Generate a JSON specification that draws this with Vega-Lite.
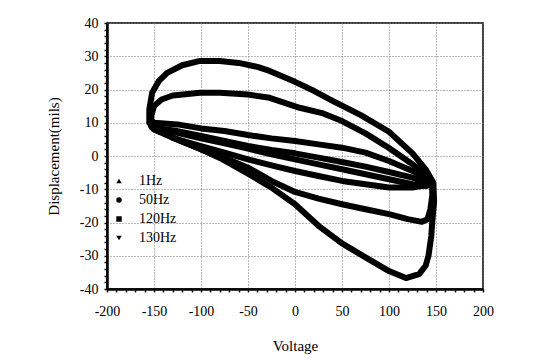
{
  "$schema": "https://vega.github.io/schema/vega-lite/v6.json",
  "autosize": "none",
  "width": 376,
  "height": 266,
  "padding": {"left": 107, "top": 23, "right": 57, "bottom": 71},
  "background": "white",
  "config": {
    "view": {"stroke": "black", "strokeWidth": 1.5},
    "font": "Liberation Serif"
  },
  "data": {"values": [
    {"f":"130Hz","i":1,"v":-155,"d":10},{"f":"130Hz","i":2,"v":-155,"d":14},{"f":"130Hz","i":3,"v":-152,"d":19},{"f":"130Hz","i":4,"v":-145,"d":22.5},{"f":"130Hz","i":5,"v":-136,"d":25},{"f":"130Hz","i":6,"v":-120,"d":27.3},{"f":"130Hz","i":7,"v":-101,"d":28.6},{"f":"130Hz","i":8,"v":-80,"d":28.6},{"f":"130Hz","i":9,"v":-60,"d":28},{"f":"130Hz","i":10,"v":-40,"d":26.8},{"f":"130Hz","i":11,"v":-27,"d":25.6},{"f":"130Hz","i":12,"v":0,"d":22.3},{"f":"130Hz","i":13,"v":20,"d":19.6},{"f":"130Hz","i":14,"v":40,"d":16.6},{"f":"130Hz","i":15,"v":70,"d":12.3},{"f":"130Hz","i":16,"v":100,"d":7.3},{"f":"130Hz","i":17,"v":125,"d":0.8},{"f":"130Hz","i":18,"v":139,"d":-4},{"f":"130Hz","i":19,"v":147,"d":-8},{"f":"130Hz","i":20,"v":148,"d":-13.5},{"f":"130Hz","i":21,"v":146,"d":-20},{"f":"130Hz","i":22,"v":145,"d":-24},{"f":"130Hz","i":23,"v":142,"d":-30},{"f":"130Hz","i":24,"v":139,"d":-33},{"f":"130Hz","i":25,"v":132,"d":-35.5},{"f":"130Hz","i":26,"v":118,"d":-36.7},{"f":"130Hz","i":27,"v":100,"d":-34.6},{"f":"130Hz","i":28,"v":75,"d":-30.5},{"f":"130Hz","i":29,"v":50,"d":-26.3},{"f":"130Hz","i":30,"v":25,"d":-21},{"f":"130Hz","i":31,"v":0,"d":-14.5},{"f":"130Hz","i":32,"v":-25,"d":-9.5},{"f":"130Hz","i":33,"v":-50,"d":-5.3},{"f":"130Hz","i":34,"v":-77,"d":-1},{"f":"130Hz","i":35,"v":-100,"d":2},{"f":"130Hz","i":36,"v":-130,"d":5.5},{"f":"130Hz","i":37,"v":-150,"d":8},{"f":"130Hz","i":38,"v":-155,"d":10},
    {"f":"120Hz","i":1,"v":-152,"d":9},{"f":"120Hz","i":2,"v":-153,"d":12},{"f":"120Hz","i":3,"v":-150,"d":15},{"f":"120Hz","i":4,"v":-142,"d":17},{"f":"120Hz","i":5,"v":-130,"d":18.2},{"f":"120Hz","i":6,"v":-101,"d":19},{"f":"120Hz","i":7,"v":-80,"d":19},{"f":"120Hz","i":8,"v":-50,"d":18.5},{"f":"120Hz","i":9,"v":-27,"d":17.5},{"f":"120Hz","i":10,"v":5,"d":14.5},{"f":"120Hz","i":11,"v":30,"d":12.8},{"f":"120Hz","i":12,"v":50,"d":10.5},{"f":"120Hz","i":13,"v":75,"d":6.8},{"f":"120Hz","i":14,"v":100,"d":2.4},{"f":"120Hz","i":15,"v":120,"d":-1.5},{"f":"120Hz","i":16,"v":135,"d":-4.5},{"f":"120Hz","i":17,"v":146,"d":-8},{"f":"120Hz","i":18,"v":146,"d":-12},{"f":"120Hz","i":19,"v":144,"d":-16},{"f":"120Hz","i":20,"v":141,"d":-19},{"f":"120Hz","i":21,"v":135,"d":-19.8},{"f":"120Hz","i":22,"v":120,"d":-19},{"f":"120Hz","i":23,"v":100,"d":-17.5},{"f":"120Hz","i":24,"v":75,"d":-16},{"f":"120Hz","i":25,"v":50,"d":-14.5},{"f":"120Hz","i":26,"v":25,"d":-12.8},{"f":"120Hz","i":27,"v":0,"d":-10.8},{"f":"120Hz","i":28,"v":-25,"d":-7.5},{"f":"120Hz","i":29,"v":-50,"d":-3.5},{"f":"120Hz","i":30,"v":-75,"d":-0.5},{"f":"120Hz","i":31,"v":-100,"d":2},{"f":"120Hz","i":32,"v":-130,"d":5.5},{"f":"120Hz","i":33,"v":-152,"d":9},
    {"f":"50Hz","i":1,"v":-153,"d":9},{"f":"50Hz","i":2,"v":-150,"d":10},{"f":"50Hz","i":3,"v":-125,"d":9.5},{"f":"50Hz","i":4,"v":-100,"d":8.3},{"f":"50Hz","i":5,"v":-75,"d":7.5},{"f":"50Hz","i":6,"v":-50,"d":6.3},{"f":"50Hz","i":7,"v":-25,"d":5.3},{"f":"50Hz","i":8,"v":0,"d":4.5},{"f":"50Hz","i":9,"v":25,"d":3.5},{"f":"50Hz","i":10,"v":50,"d":2.5},{"f":"50Hz","i":11,"v":75,"d":1},{"f":"50Hz","i":12,"v":100,"d":-1.5},{"f":"50Hz","i":13,"v":125,"d":-4.5},{"f":"50Hz","i":14,"v":145,"d":-7.5},{"f":"50Hz","i":15,"v":147,"d":-8.5},{"f":"50Hz","i":16,"v":140,"d":-9},{"f":"50Hz","i":17,"v":125,"d":-8.5},{"f":"50Hz","i":18,"v":100,"d":-7},{"f":"50Hz","i":19,"v":75,"d":-5.5},{"f":"50Hz","i":20,"v":50,"d":-4},{"f":"50Hz","i":21,"v":25,"d":-2.5},{"f":"50Hz","i":22,"v":0,"d":-1},{"f":"50Hz","i":23,"v":-25,"d":0.5},{"f":"50Hz","i":24,"v":-50,"d":2.2},{"f":"50Hz","i":25,"v":-75,"d":3.8},{"f":"50Hz","i":26,"v":-100,"d":5.3},{"f":"50Hz","i":27,"v":-125,"d":7},{"f":"50Hz","i":28,"v":-150,"d":8.5},{"f":"50Hz","i":29,"v":-153,"d":9},
    {"f":"1Hz","i":1,"v":-152,"d":8.5},{"f":"1Hz","i":2,"v":-125,"d":7.5},{"f":"1Hz","i":3,"v":-100,"d":6},{"f":"1Hz","i":4,"v":-75,"d":4.5},{"f":"1Hz","i":5,"v":-50,"d":3},{"f":"1Hz","i":6,"v":-25,"d":1.8},{"f":"1Hz","i":7,"v":0,"d":0.8},{"f":"1Hz","i":8,"v":25,"d":-0.5},{"f":"1Hz","i":9,"v":50,"d":-1.8},{"f":"1Hz","i":10,"v":75,"d":-3.2},{"f":"1Hz","i":11,"v":100,"d":-4.8},{"f":"1Hz","i":12,"v":125,"d":-6.5},{"f":"1Hz","i":13,"v":146,"d":-8.5},{"f":"1Hz","i":14,"v":125,"d":-9.5},{"f":"1Hz","i":15,"v":100,"d":-9.5},{"f":"1Hz","i":16,"v":75,"d":-8.5},{"f":"1Hz","i":17,"v":50,"d":-7.5},{"f":"1Hz","i":18,"v":25,"d":-6},{"f":"1Hz","i":19,"v":0,"d":-4.5},{"f":"1Hz","i":20,"v":-25,"d":-2.8},{"f":"1Hz","i":21,"v":-50,"d":-1},{"f":"1Hz","i":22,"v":-75,"d":1},{"f":"1Hz","i":23,"v":-100,"d":3},{"f":"1Hz","i":24,"v":-125,"d":5},{"f":"1Hz","i":25,"v":-152,"d":8.5}
  ]},
  "encoding": {
    "x": {"field": "v", "type": "quantitative",
      "scale": {"domain": [-200, 200], "nice": false},
      "axis": {
        "title": "Voltage", "titleFont": "Liberation Serif", "titleFontSize": 15, "titleFontWeight": "normal", "titleColor": "black", "titlePadding": 20,
        "values": [-200,-190,-180,-170,-160,-150,-140,-130,-120,-110,-100,-90,-80,-70,-60,-50,-40,-30,-20,-10,0,10,20,30,40,50,60,70,80,90,100,110,120,130,140,150,160,170,180,190,200],
        "labelExpr": "datum.value % 50 === 0 ? '' + datum.value : ''",
        "labelFont": "Liberation Serif", "labelFontSize": 14, "labelColor": "black", "labelPadding": 12, "labelFlush": false, "labelOverlap": false,
        "domainColor": "black", "domainWidth": 2.5,
        "tickColor": "black", "tickSize": 3, "tickWidth": 1.5,
        "gridColor": "#777", "gridDash": [1, 2], "gridWidth": 1,
        "gridOpacity": {"condition": {"test": "datum.value % 50 === 0", "value": 1}, "value": 0}
      }},
    "y": {"field": "d", "type": "quantitative",
      "scale": {"domain": [-40, 40], "nice": false},
      "axis": {
        "title": "Displacement(mils)", "titleFont": "Liberation Serif", "titleFontSize": 15, "titleFontWeight": "normal", "titleColor": "black", "titlePadding": 18,
        "values": [-40,-38,-36,-34,-32,-30,-28,-26,-24,-22,-20,-18,-16,-14,-12,-10,-8,-6,-4,-2,0,2,4,6,8,10,12,14,16,18,20,22,24,26,28,30,32,34,36,38,40],
        "labelExpr": "datum.value % 10 === 0 ? '' + datum.value : ''",
        "labelFont": "Liberation Serif", "labelFontSize": 14, "labelColor": "black", "labelPadding": 6, "labelFlush": false, "labelOverlap": false,
        "domainColor": "black", "domainWidth": 2.5,
        "tickColor": "black", "tickSize": 3, "tickWidth": 1.5,
        "gridColor": "#777", "gridDash": [1, 2], "gridWidth": 1,
        "gridOpacity": {"condition": {"test": "datum.value % 10 === 0", "value": 1}, "value": 0}
      }}
  },
  "layer": [
    {
      "mark": {"type": "line", "color": "black", "strokeWidth": 6, "strokeJoin": "round", "strokeCap": "round"},
      "encoding": {
        "detail": {"field": "f", "type": "nominal"},
        "order": {"field": "i", "type": "quantitative"}
      }
    },
    {
      "mark": {"type": "point", "filled": true, "color": "black", "size": 10, "opacity": 1},
      "encoding": {
        "shape": {"field": "f", "type": "nominal",
          "scale": {"domain": ["1Hz", "50Hz", "120Hz", "130Hz"], "range": ["triangle-up", "circle", "square", "triangle-down"]},
          "legend": {
            "title": null, "orient": "none", "legendX": 5, "legendY": 151,
            "symbolSize": 30, "symbolFillColor": "black", "symbolStrokeColor": "black", "symbolOpacity": 1,
            "labelFont": "Liberation Serif", "labelFontSize": 14, "labelColor": "black", "labelOffset": 13,
            "rowPadding": 5, "padding": 0
          }}
      }
    }
  ]
}
